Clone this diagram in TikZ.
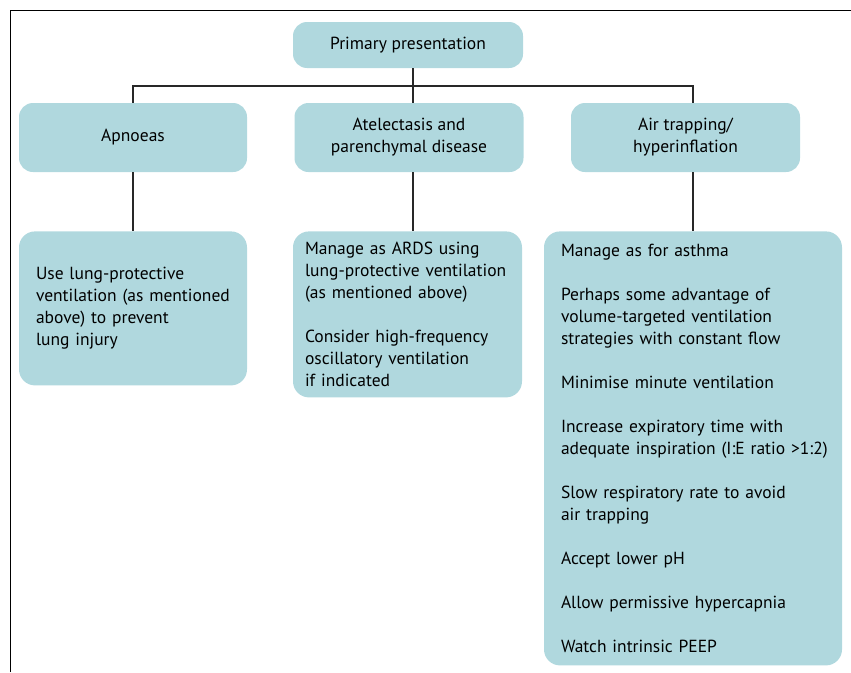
\documentclass[tikz,border=0pt]{standalone}
\usepackage{fontspec}
\setmainfont{PT Sans}
\usepackage{tikz}
\usetikzlibrary{positioning}
\definecolor{ptblue}{RGB}{176,216,222}
\definecolor{linkgray}{RGB}{40,40,40}
\tikzstyle{link} = [line width=1.3pt, color=linkgray]
\tikzstyle{headbox} = [rectangle, rounded corners=14pt, fill=ptblue, align=center, font=\fontsize{17.5}{22}\selectfont]
\tikzstyle{mgmtbox} = [rectangle, rounded corners=16pt, fill=ptblue, align=left, inner xsep=17pt, font=\fontsize{17.5}{22}\selectfont]

\begin{document}
\begin{tikzpicture}[x=1pt, y=-1pt]
\useasboundingbox (0,0) rectangle (851,672);
% Frame
\draw[line width=1pt] (10,672) -- (10,10) -- (851,10);
% Primary presentation
\node[headbox, minimum width=230pt, minimum height=46pt] (prim) at (408,45) {Primary presentation};
% Categories
\node[headbox, minimum width=228pt, minimum height=69pt] (apn) at (133,137.5) {Apnoeas};
\node[headbox, minimum width=229pt, minimum height=69pt] (atel) at (409,137.5) {Atelectasis and\\parenchymal disease};
\node[headbox, minimum width=229pt, minimum height=69pt] (air) at (685.5,137.5) {Air trapping/\\hyperinflation};
% Management
\node[mgmtbox, below=59pt of apn, text width=194pt, minimum height=154pt] (apnmg) {Use lung-protective\\ventilation (as mentioned\\above) to prevent\\lung injury};
\node[mgmtbox, below=59pt of atel, xshift=-1.5pt, text width=205pt, inner xsep=12pt, minimum height=166pt] (atelmg) {Manage as ARDS using\\lung-protective ventilation\\(as mentioned above)\\[22pt]Consider high-frequency\\oscillatory ventilation\\if indicated};
\node[mgmtbox, below=59pt of air, xshift=7.5pt, text width=264pt, minimum height=434pt] (airmg) {Manage as for asthma\\[22pt]Perhaps some advantage of\\volume-targeted ventilation\\strategies with constant flow\\[22pt]Minimise minute ventilation\\[22pt]Increase expiratory time with\\\mbox{adequate inspiration (I:E ratio >1:2)}\\[22pt]Slow respiratory rate to avoid\\air trapping\\[22pt]Accept lower pH\\[22pt]Allow permissive hypercapnia\\[22pt]Watch intrinsic PEEP};
% Connectors
\coordinate (bus) at (413,86);
\draw[link] ([xshift=5pt]prim.south) -- (bus);
\draw[link] (apn.north) |- (bus) -| (airmg.north |- air.north);
\draw[link] (bus) -- (bus |- atel.north);
\draw[link] (apn.south) -- (apnmg.north);
\draw[link] (bus |- atel.south) -- (bus |- atelmg.north);
\draw[link] (airmg.north |- air.south) -- (airmg.north);
\end{tikzpicture}
\end{document}
